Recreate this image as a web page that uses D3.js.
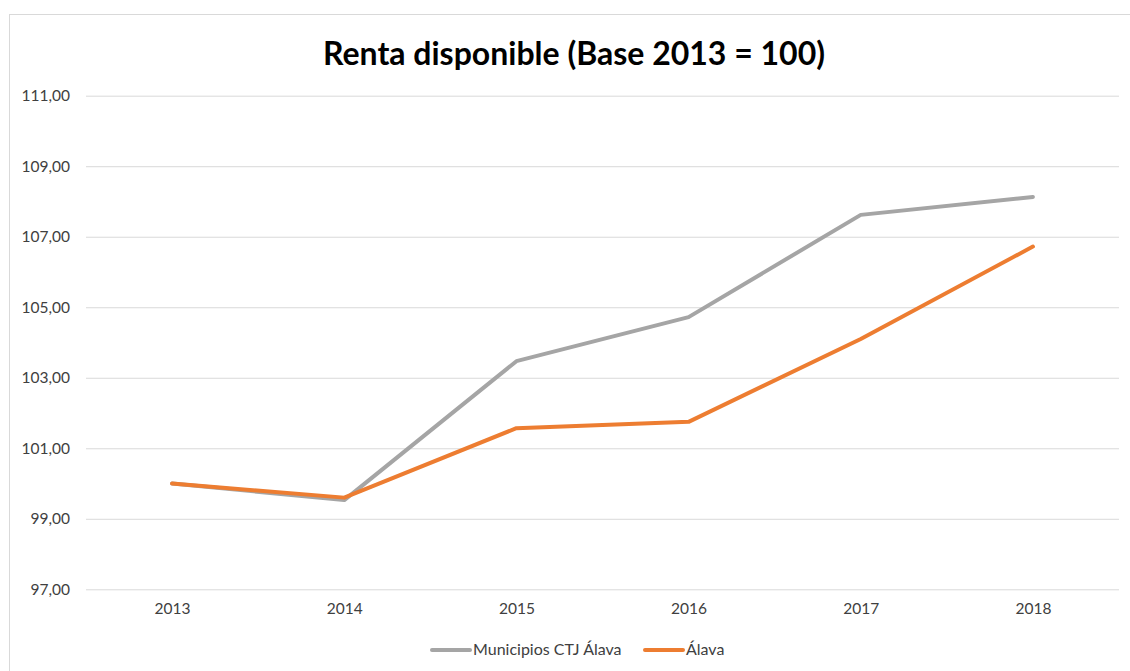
<!DOCTYPE html>
<html>
<head>
<meta charset="utf-8">
<script src="https://cdn.jsdelivr.net/npm/d3@7"></script>
<style>
  body { margin: 0; background: #fff; }
  text { font-family: Lato, "Open Sans", sans-serif; }
</style>
</head>
<body>
<div id="chart"></div>
<script>
// données
const annees = ["2013", "2014", "2015", "2016", "2017", "2018"];
const municipios = [100.00, 99.53, 103.47, 104.72, 107.62, 108.13];
const alava = [100.00, 99.60, 101.57, 101.75, 104.10, 106.72];
const yTicks = [97, 99, 101, 103, 105, 107, 109, 111];
const seriesNoms = ["Municipios CTJ Álava", "Álava"];
const couleurs = ["#A5A5A5", "#ED7D31"];

const width = 1130, height = 671;
const svg = d3.select("#chart").append("svg")
    .attr("width", width)
    .attr("height", height);

// cadre du graphique
svg.append("rect")
    .attr("x", 9.5).attr("y", 14.5)
    .attr("width", 1140).attr("height", 700)
    .attr("fill", "none")
    .attr("stroke", "#d9d9d9");

// titre
svg.append("text")
    .attr("x", 574).attr("y", 65)
    .attr("text-anchor", "middle")
    .style("font-size", "32px")
    .style("font-weight", "bold")
    .style("fill", "#000")
    .text("Renta disponible (Base 2013 = 100)");

const x = d3.scalePoint().domain(annees).range([86, 1119]).padding(0.5);
const y = d3.scaleLinear().domain([97, 111]).range([589.3, 95.7]);

// grille + axe Y
const fmt = v => d3.format(".2f")(v).replace(".", ",");
svg.append("g")
    .attr("transform", "translate(86,0)")
    .call(d3.axisLeft(y).tickValues(yTicks).tickFormat(fmt).tickSize(-1033).tickPadding(16))
    .call(g => g.select(".domain").remove())
    .call(g => g.selectAll("line").attr("stroke", "#d9d9d9"))
    .call(g => g.selectAll("text").style("font-size", "15.5px").style("fill", "#404040").style("font-family", "Lato, sans-serif"));

// axe X
svg.append("g")
    .attr("transform", "translate(0,589.3)")
    .call(d3.axisBottom(x).tickSize(0).tickPadding(14))
    .call(g => g.select(".domain").remove())
    .call(g => g.selectAll("text").style("font-size", "15.5px").style("fill", "#404040").style("font-family", "Lato, sans-serif"));

// lignes
const line = d3.line().x((d, i) => x(annees[i])).y(d => y(d));
[municipios, alava].forEach((s, k) => {
    svg.append("path")
        .datum(s)
        .attr("d", line)
        .attr("fill", "none")
        .attr("stroke", couleurs[k])
        .attr("stroke-width", 4)
        .attr("stroke-linejoin", "round")
        .attr("stroke-linecap", "round");
});

// légende
const legX = [432, 645];
seriesNoms.forEach((n, k) => {
    svg.append("line")
        .attr("x1", legX[k]).attr("x2", legX[k] + 38)
        .attr("y1", 650).attr("y2", 650)
        .attr("stroke", couleurs[k])
        .attr("stroke-width", 4)
        .attr("stroke-linecap", "round");
    svg.append("text")
        .attr("x", legX[k] + 41).attr("y", 655)
        .style("font-size", "16px")
        .style("fill", "#404040")
        .text(n);
});
</script>
</body>
</html>
